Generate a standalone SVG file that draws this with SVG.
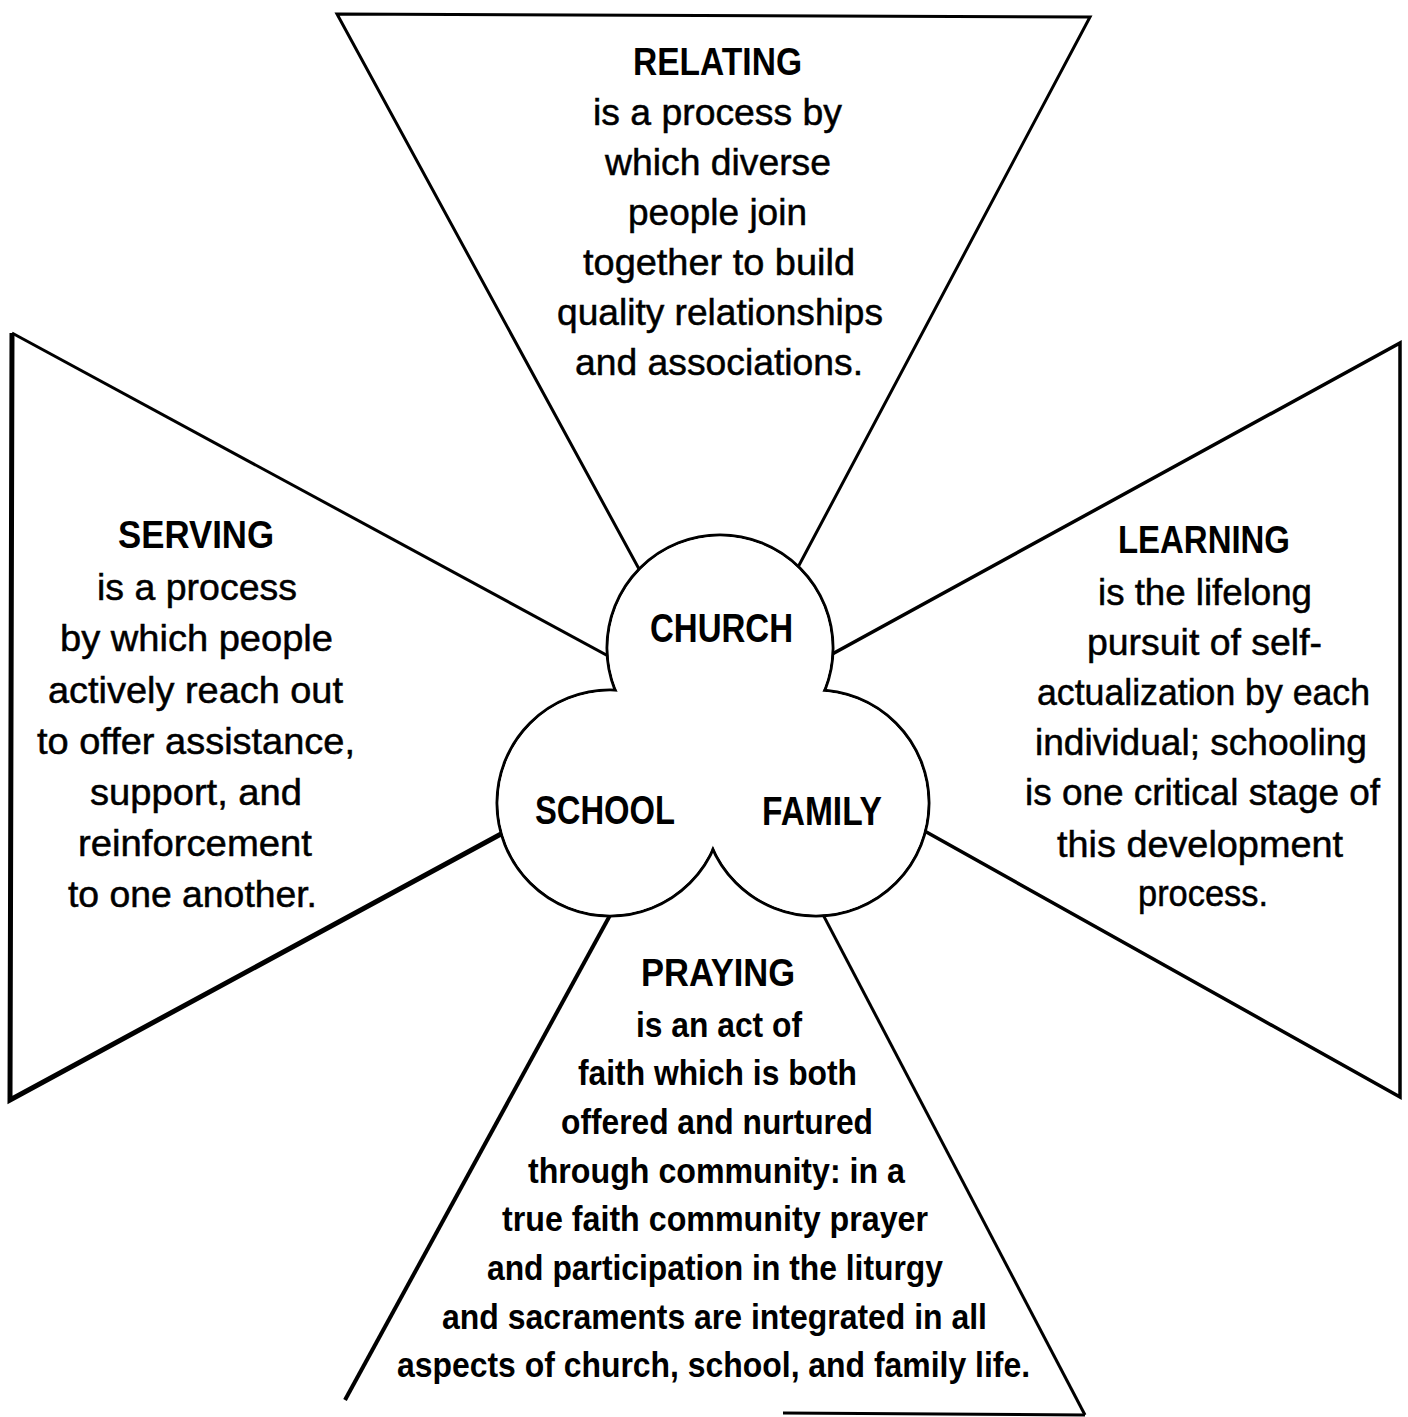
<svg xmlns="http://www.w3.org/2000/svg" width="1408" height="1417" viewBox="0 0 1408 1417">
<style>
text{font-family:"Liberation Sans Narrow","Liberation Sans",Arial,sans-serif;fill:#000}
.h{font-size:38px;font-weight:bold}
.b{font-size:37px;stroke:#000;stroke-width:0.5}
.p{font-size:35px;font-weight:bold}
.c{font-size:40px;font-weight:bold}
.edge{fill:none;stroke:#000;stroke-width:3;stroke-linejoin:miter}
.ring{fill:#fff;stroke:#000;stroke-width:3}
.hole{fill:#fff;stroke:none}
</style>
<rect width="1408" height="1417" fill="#fff"/>
<g id="connectors">
<polygon class="edge" points="337,14 1090,17 719,716"/>
<polyline class="edge" points="12,333 719,716"/>
<polyline class="edge" style="stroke-width:5" points="719,716 10,1100 12,333"/>
<polygon class="edge" style="stroke-width:3.5" points="1400,343 1400,1097 719,716"/>
<polyline class="edge" points="719,716 1085,1415"/>
<polyline class="edge" style="stroke-width:4" points="719,716 345,1400"/>
<line class="edge" x1="783" y1="1413" x2="1085" y2="1415"/>
</g>
<g id="trefoil">
<circle class="ring" cx="720" cy="648" r="113"/>
<circle class="ring" cx="610" cy="803" r="113"/>
<circle class="ring" cx="816" cy="803" r="113"/>
<circle class="hole" cx="720" cy="648" r="111.4"/>
<circle class="hole" cx="610" cy="803" r="111.4"/>
<circle class="hole" cx="816" cy="803" r="111.4"/>
<circle class="hole" cx="715" cy="755" r="35"/>
</g>
<g id="church"><text class="c" x="650" y="642" textLength="143" lengthAdjust="spacingAndGlyphs">CHURCH</text></g>
<g id="school"><text class="c" x="535" y="824" textLength="140" lengthAdjust="spacingAndGlyphs">SCHOOL</text></g>
<g id="family"><text class="c" x="762" y="825" textLength="120" lengthAdjust="spacingAndGlyphs">FAMILY</text></g>
<g id="relating">
<text class="h" x="633" y="75" textLength="169" lengthAdjust="spacingAndGlyphs">RELATING</text>
<text class="b" x="593" y="125" textLength="249" lengthAdjust="spacingAndGlyphs">is a process by</text>
<text class="b" x="605" y="175" textLength="226" lengthAdjust="spacingAndGlyphs">which diverse</text>
<text class="b" x="628" y="225" textLength="179" lengthAdjust="spacingAndGlyphs">people join</text>
<text class="b" x="583" y="275" textLength="272" lengthAdjust="spacingAndGlyphs">together to build</text>
<text class="b" x="557" y="325" textLength="326" lengthAdjust="spacingAndGlyphs">quality relationships</text>
<text class="b" x="575" y="375" textLength="288" lengthAdjust="spacingAndGlyphs">and associations.</text>
</g>
<g id="serving">
<text class="h" x="118" y="548" textLength="156" lengthAdjust="spacingAndGlyphs">SERVING</text>
<text class="b" x="97" y="600" textLength="200" lengthAdjust="spacingAndGlyphs">is a process</text>
<text class="b" x="60" y="651" textLength="273" lengthAdjust="spacingAndGlyphs">by which people</text>
<text class="b" x="48" y="703" textLength="295" lengthAdjust="spacingAndGlyphs">actively reach out</text>
<text class="b" x="37" y="754" textLength="318" lengthAdjust="spacingAndGlyphs">to offer assistance,</text>
<text class="b" x="90" y="805" textLength="212" lengthAdjust="spacingAndGlyphs">support, and</text>
<text class="b" x="78" y="856" textLength="234" lengthAdjust="spacingAndGlyphs">reinforcement</text>
<text class="b" x="68" y="907" textLength="249" lengthAdjust="spacingAndGlyphs">to one another.</text>
</g>
<g id="learning">
<text class="h" x="1118" y="553" textLength="172" lengthAdjust="spacingAndGlyphs">LEARNING</text>
<text class="b" x="1098" y="605" textLength="214" lengthAdjust="spacingAndGlyphs">is the lifelong</text>
<text class="b" x="1087" y="655" textLength="235" lengthAdjust="spacingAndGlyphs">pursuit of self-</text>
<text class="b" x="1037" y="705" textLength="333" lengthAdjust="spacingAndGlyphs">actualization by each</text>
<text class="b" x="1035" y="755" textLength="332" lengthAdjust="spacingAndGlyphs">individual; schooling</text>
<text class="b" x="1025" y="805" textLength="355" lengthAdjust="spacingAndGlyphs">is one critical stage of</text>
<text class="b" x="1057" y="857" textLength="286" lengthAdjust="spacingAndGlyphs">this development</text>
<text class="b" x="1138" y="906" textLength="130" lengthAdjust="spacingAndGlyphs">process.</text>
</g>
<g id="praying">
<text class="h" x="641" y="986" textLength="154" lengthAdjust="spacingAndGlyphs">PRAYING</text>
<text class="p" x="636" y="1037" textLength="166" lengthAdjust="spacingAndGlyphs">is an act of</text>
<text class="p" x="578" y="1085" textLength="279" lengthAdjust="spacingAndGlyphs">faith which is both</text>
<text class="p" x="561" y="1134" textLength="312" lengthAdjust="spacingAndGlyphs">offered and nurtured</text>
<text class="p" x="528" y="1183" textLength="377" lengthAdjust="spacingAndGlyphs">through community: in a</text>
<text class="p" x="502" y="1231" textLength="426" lengthAdjust="spacingAndGlyphs">true faith community prayer</text>
<text class="p" x="487" y="1280" textLength="456" lengthAdjust="spacingAndGlyphs">and participation in the liturgy</text>
<text class="p" x="442" y="1329" textLength="545" lengthAdjust="spacingAndGlyphs">and sacraments are integrated in all</text>
<text class="p" x="397" y="1377" textLength="633" lengthAdjust="spacingAndGlyphs">aspects of church, school, and family life.</text>
</g>
</svg>
